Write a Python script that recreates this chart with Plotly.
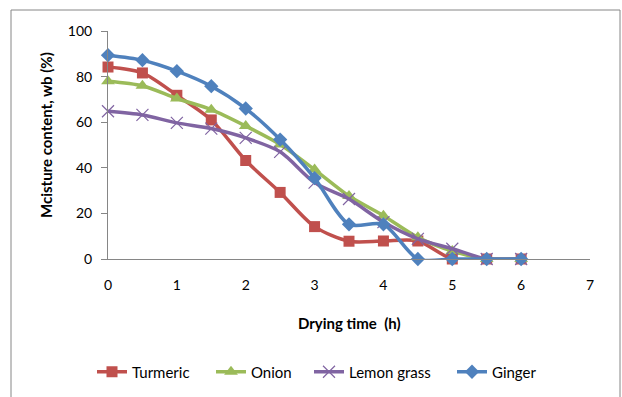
import plotly.graph_objects as go

time_h = [0, 0.5, 1, 1.5, 2, 2.5, 3, 3.5, 4, 4.5, 5, 5.5, 6]
turmeric = [84.2, 81.6, 71.8, 61.0, 43.2, 29.2, 14.2, 7.8, 7.9, 7.9, 0, 0, 0]
onion = [78.0, 76.0, 70.4, 65.5, 58.3, 50.2, 39.2, 27.6, 19.0, 9.5, 3.5, 0, 0]
lemon_grass = [64.8, 63.2, 59.7, 57.2, 53.1, 47.0, 33.5, 26.3, 16.2, 8.8, 4.5, 0, 0]
ginger = [89.4, 87.2, 82.4, 75.8, 66.0, 52.4, 35.5, 15.2, 15.2, 0, 0, 0, 0]

x_labels = [0, 1, 2, 3, 4, 5, 6, 7]
x_major_ticks = [0, 2, 4, 6, 7]
y_ticks = [0, 20, 40, 60, 80, 100]

series = [
    ("Turmeric", turmeric, "#C0504D", "square", 11),
    ("Onion", onion, "#9BBB59", "triangle-up", 12),
    ("Lemon grass", lemon_grass, "#8064A2", "x-thin-open", 12),
    ("Ginger", ginger, "#4F81BD", "diamond", 11),
]
legend_left_px = [92, 211, 309, 452]

FONT = "Lato"
W, H = 622, 397
L, R, T, B = 108, 32, 31, 138
pw, ph = W - L - R, H - T - B


def py(pix):
    return (T + ph - pix) / ph


def px(pix):
    return (pix - L) / pw


fig = go.Figure()
legend_layouts = {}
for i, (name, vals, color, sym, size) in enumerate(series):
    mk = dict(symbol=sym, size=size, color=color)
    if sym == "x-thin-open":
        mk["line"] = dict(color=color, width=1.2)
    lg = "legend" if i == 0 else f"legend{i + 1}"
    fig.add_trace(go.Scatter(
        x=time_h, y=vals, name=name, mode="lines+markers",
        line=dict(color=color, width=3.5, shape="spline", smoothing=0.8),
        marker=mk, cliponaxis=False, legend=lg,
    ))
    legend_layouts[lg] = dict(orientation="h", x=px(legend_left_px[i]), xanchor="left",
                              y=py(372), yanchor="middle", bgcolor="rgba(0,0,0,0)",
                              font=dict(family=FONT, size=15, color="#000000"))

fig.update_layout(
    width=W, height=H,
    margin=dict(l=L, r=R, t=T, b=B, autoexpand=False),
    paper_bgcolor="white", plot_bgcolor="white",
    font=dict(family=FONT, size=14, color="#000000"),
    showlegend=True,
    xaxis=dict(range=[0, 7], tickvals=x_labels, ticks="", showgrid=False,
               zeroline=False, showline=True, linecolor="#868686", linewidth=1,
               ticklabelstandoff=13, tickfont=dict(family=FONT, size=14), automargin=False),
    xaxis2=dict(range=[0, 7], overlaying="x", anchor="y", side="bottom",
                tickvals=x_major_ticks, ticks="outside", ticklen=5,
                tickcolor="#868686", showticklabels=False, showgrid=False,
                zeroline=False, showline=False, automargin=False),
    yaxis=dict(range=[0, 100], tickvals=y_ticks, ticks="outside", ticklen=6,
               tickcolor="#868686", showgrid=False, zeroline=False,
               showline=True, linecolor="#868686", linewidth=1,
               ticklabelstandoff=6, tickfont=dict(family=FONT, size=14), automargin=False),
    annotations=[
        dict(text="<b>Drying time  (h)</b>", xref="paper", yref="paper",
             x=0.5, y=py(323), showarrow=False,
             font=dict(family=FONT, size=15), xanchor="center", yanchor="middle"),
        dict(text="<b>Mcisture content, wb (%)</b>", xref="paper", yref="paper",
             x=px(46), y=py(135), textangle=-90, showarrow=False,
             font=dict(family=FONT, size=15), xanchor="center", yanchor="middle"),
    ],
    shapes=[dict(type="rect", xref="paper", yref="paper",
                 x0=px(11), x1=px(620), y0=py(400), y1=py(10),
                 line=dict(color="#868686", width=1), fillcolor="rgba(0,0,0,0)",
                 layer="below")],
    **legend_layouts,
)
fig.write_html("out.html")
